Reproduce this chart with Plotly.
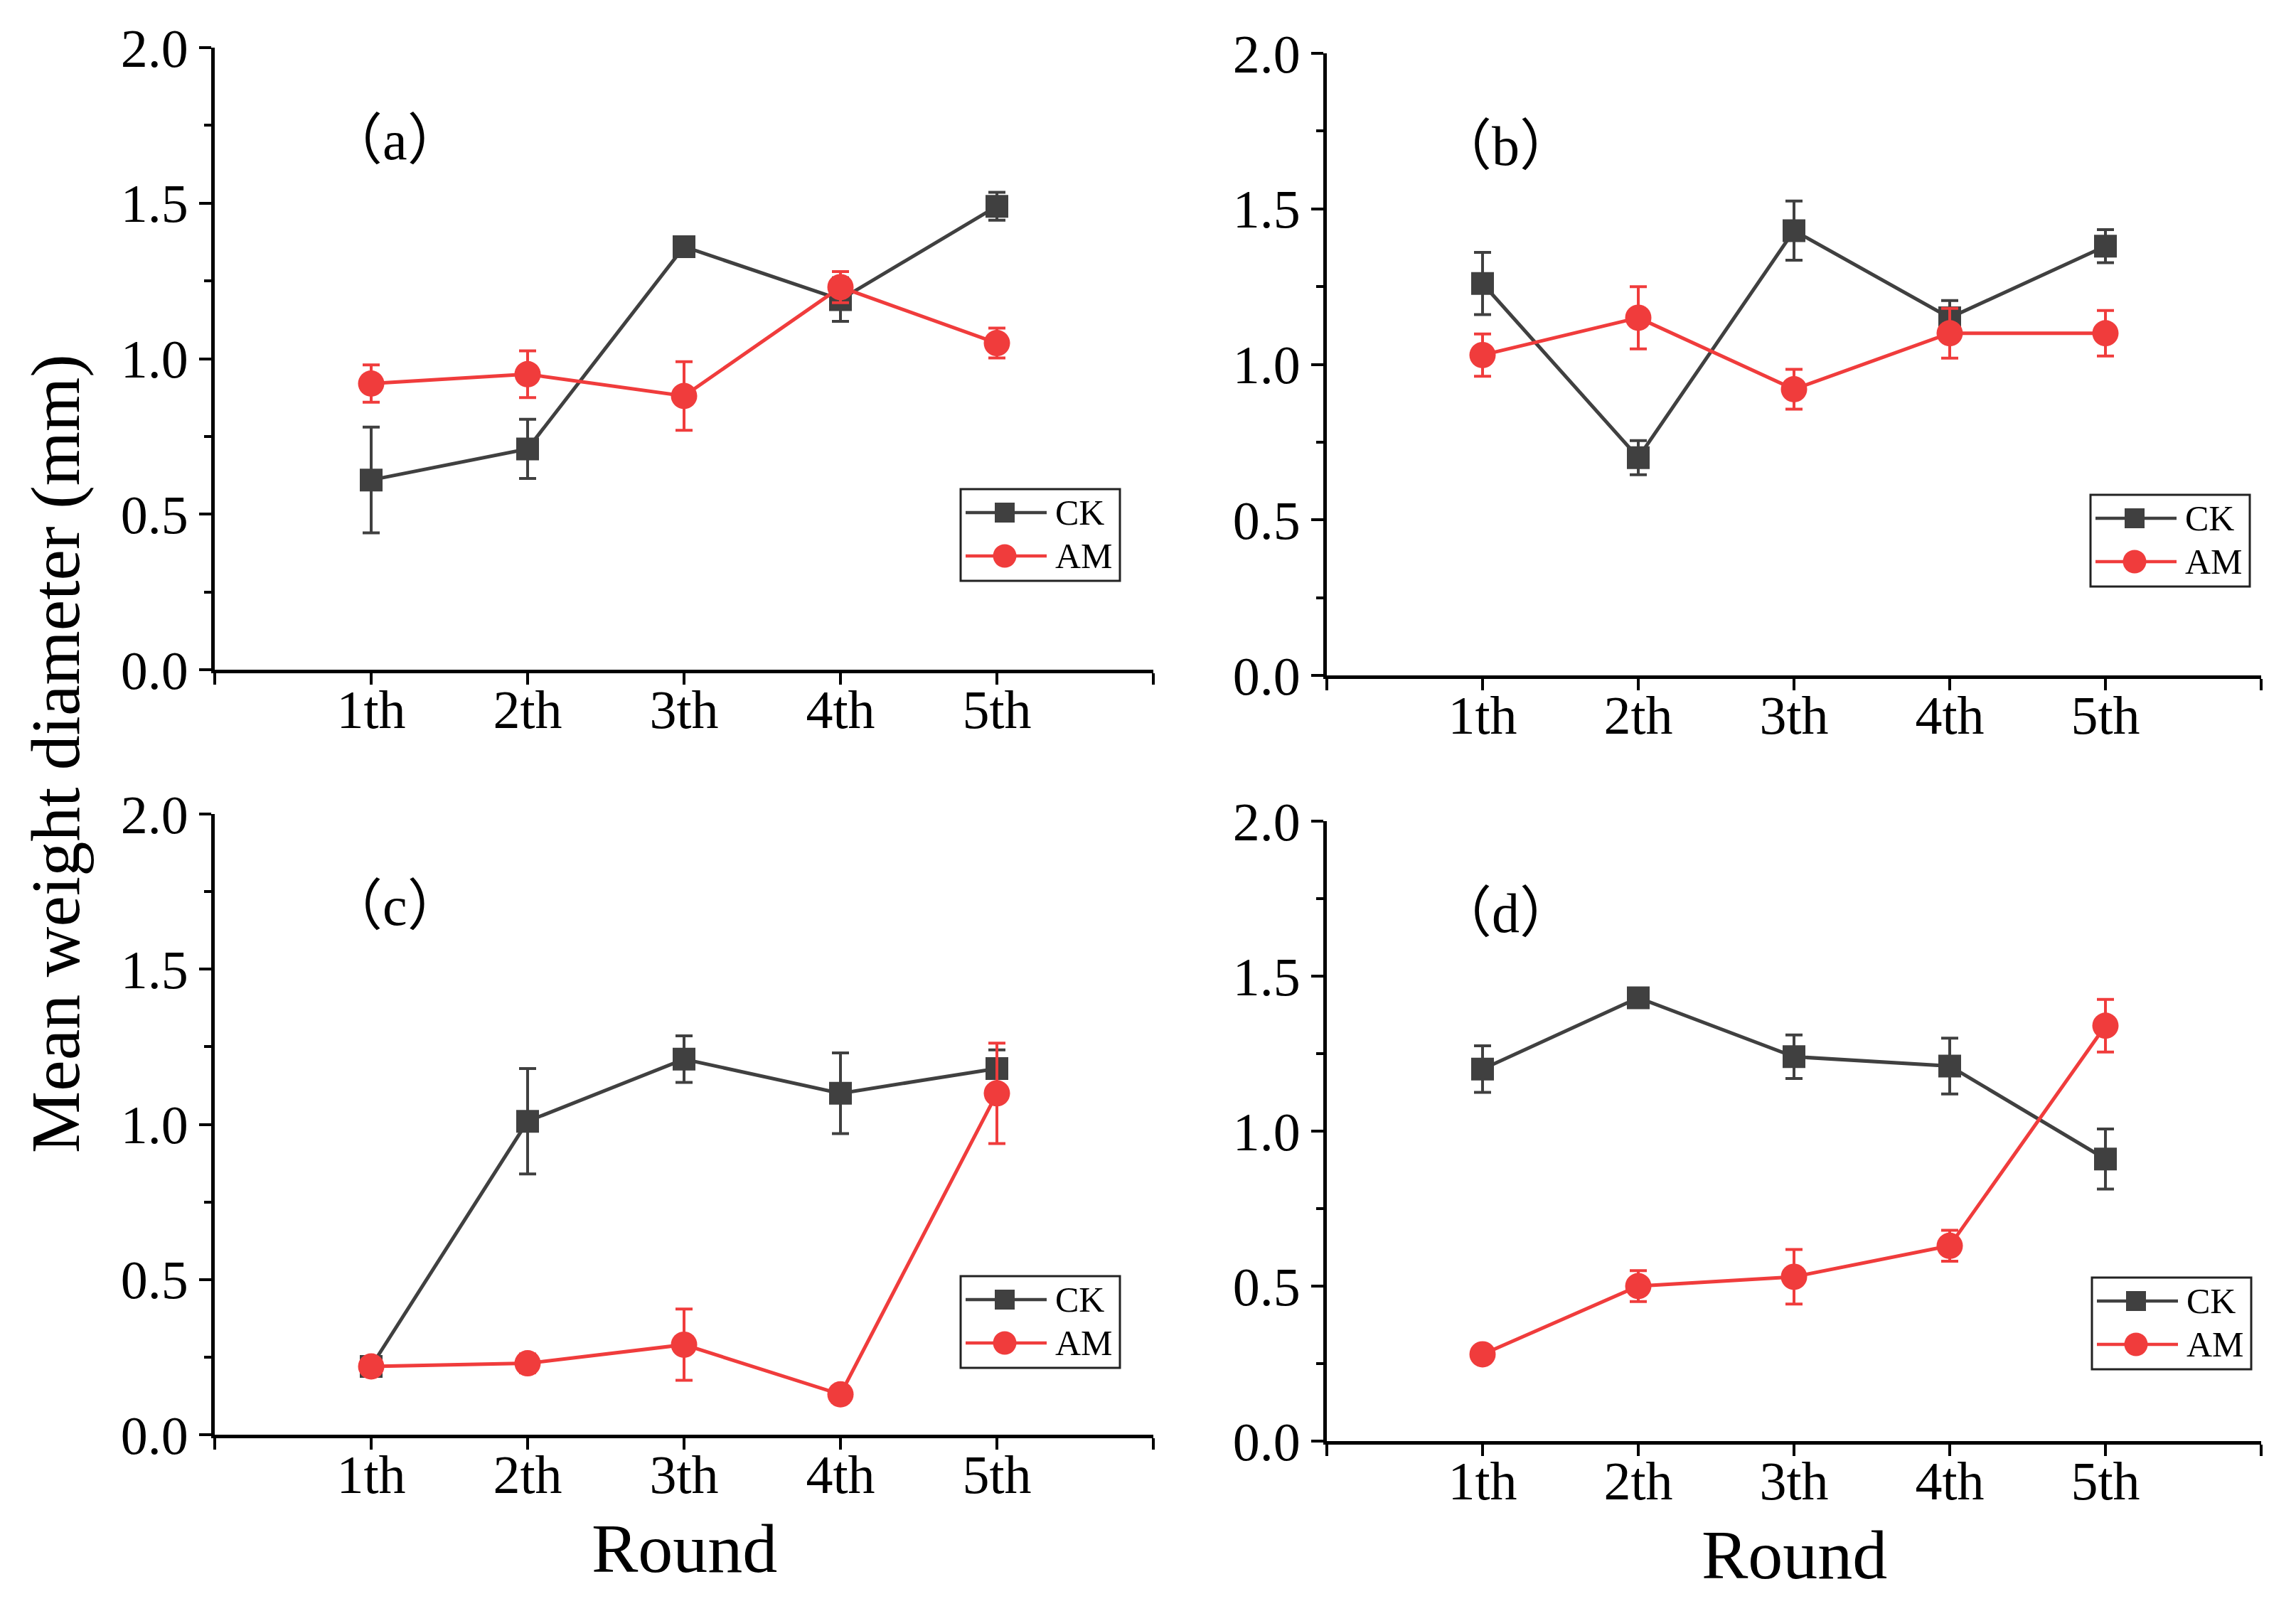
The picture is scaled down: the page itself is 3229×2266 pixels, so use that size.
import plotly.graph_objects as go

W, H = 3229, 2266
PAD = 8  # default body margin of the page
FW, FH = W - 2 * PAD, H - 2 * PAD

rounds = ['1th', '2th', '3th', '4th', '5th']
series_names = ['CK', 'AM']
panel_letters = ['a', 'b', 'c', 'd']

# mean weight diameter (mm) and error per panel
ck_a = [0.61, 0.71, 1.36, 1.19, 1.49]
ck_a_err = [0.17, 0.095, 0.03, 0.07, 0.045]
am_a = [0.92, 0.95, 0.88, 1.23, 1.05]
am_a_err = [0.06, 0.075, 0.11, 0.05, 0.048]

ck_b = [1.26, 0.70, 1.43, 1.15, 1.38]
ck_b_err = [0.10, 0.055, 0.095, 0.055, 0.053]
am_b = [1.03, 1.15, 0.92, 1.10, 1.10]
am_b_err = [0.068, 0.10, 0.064, 0.08, 0.073]

ck_c = [0.22, 1.01, 1.21, 1.10, 1.18]
ck_c_err = [0.02, 0.17, 0.075, 0.13, 0.06]
am_c = [0.22, 0.23, 0.29, 0.13, 1.10]
am_c_err = [0.025, 0.03, 0.115, 0.02, 0.162]

ck_d = [1.20, 1.43, 1.24, 1.21, 0.91]
ck_d_err = [0.075, 0.03, 0.07, 0.09, 0.097]
am_d = [0.28, 0.50, 0.53, 0.63, 1.34]
am_d_err = [0.02, 0.05, 0.088, 0.05, 0.085]

panels = [
    (ck_a, ck_a_err, am_a, am_a_err),
    (ck_b, ck_b_err, am_b, am_b_err),
    (ck_c, ck_c_err, am_c, am_c_err),
    (ck_d, ck_d_err, am_d, am_d_err),
]

CK_COL = '#404040'
AM_COL = '#F03C3C'
FONT = 'Liberation Serif, Times New Roman, serif'
CJK = 'Noto Sans CJK SC'

# numeric x positions for the rounds (axis runs 0..6)
xpos = [i + 1 for i in range(len(rounds))]
tickvals = [0] + xpos + [len(rounds) + 1]
ticktext = [''] + rounds + ['']

# axes boxes in window pixels (left, right, top, bottom)
boxes = [(302, 1622, 67, 942), (1866, 3180, 75, 950),
         (302, 1622, 1145, 2018), (1866, 3180, 1155, 2027)]
# legend box top-left corner in window pixels
legend_pos = [(1351, 688), (2940, 696), (1351, 1795), (2942, 1797)]


def px(x):
    return (x - PAD) / FW


def py(y):
    return 1 - (y - PAD) / FH


fig = go.Figure()
shapes = []
annotations = []

# colour, symbol, size in plot, size in legend
styles = [(CK_COL, 'square', 32, 28), (AM_COL, 'circle', 37, 33)]

for i, (ck, ck_err, am, am_err) in enumerate(panels):
    sfx = '' if i == 0 else str(i + 1)
    for name, y, err, (col, sym, size, _) in zip(series_names, [ck, am], [ck_err, am_err], styles):
        fig.add_trace(go.Scatter(
            x=xpos, y=y, name=name, mode='lines+markers',
            xaxis='x' + sfx, yaxis='y' + sfx, showlegend=False,
            line=dict(color=col, width=5),
            marker=dict(symbol=sym, size=size, color=col),
            error_y=dict(type='data', array=err, visible=True,
                         color=col, thickness=4, width=12),
        ))

    l, r, t, b = boxes[i]
    fig.update_layout(**{
        'xaxis' + sfx: dict(
            domain=[px(l), px(r)], anchor='y' + sfx, automargin=False,
            range=[0, len(rounds) + 1], tickvals=tickvals, ticktext=ticktext,
            showline=True, linecolor='black', linewidth=5,
            ticks='outside', ticklen=16, tickwidth=4, tickcolor='black',
            ticklabelstandoff=-30,
            showgrid=False, zeroline=False,
            tickfont=dict(family=FONT, size=76, color='black'),
        ),
        'yaxis' + sfx: dict(
            domain=[py(b), py(t)], anchor='x' + sfx, automargin=False,
            range=[0, 2], dtick=0.5, tickformat='.1f',
            showline=True, linecolor='black', linewidth=5,
            ticks='outside', ticklen=17, tickwidth=4, tickcolor='black',
            minor=dict(dtick=0.25, ticks='outside', ticklen=10, tickwidth=4,
                       tickcolor='black', showgrid=False),
            showgrid=False, zeroline=False,
            tickfont=dict(family=FONT, size=76, color='black'),
        ),
    })

    # panel label
    annotations.append(dict(
        text=f'<span style="font-family:{CJK}">（</span>{panel_letters[i]}'
             f'<span style="font-family:{CJK}">）</span>',
        x=1.15, y=1.72, xref='x' + sfx, yref='y' + sfx, showarrow=False,
        xanchor='center', yanchor='middle',
        font=dict(family=FONT, size=78, color='black'),
    ))

    # legend box (drawn by hand so the key lines are long like the original)
    lx, ly = legend_pos[i]
    shapes.append(dict(type='rect', xref='paper', yref='paper',
                       x0=px(lx), x1=px(lx + 224), y0=py(ly + 129), y1=py(ly),
                       line=dict(color='#222222', width=3), fillcolor='white', layer='above'))
    for k, (name, (col, sym, _, lsize)) in enumerate(zip(series_names, styles)):
        ry = ly + 33 + 61 * k
        shapes.append(dict(type='line', xref='paper', yref='paper',
                           x0=px(lx + 7), x1=px(lx + 121), y0=py(ry), y1=py(ry),
                           line=dict(color=col, width=4.5), layer='above'))
        half = lsize / 2
        shapes.append(dict(type='rect' if sym == 'square' else 'circle',
                           xref='paper', yref='paper',
                           x0=px(lx + 62 - half), x1=px(lx + 62 + half),
                           y0=py(ry + half), y1=py(ry - half),
                           line=dict(width=0), fillcolor=col, layer='above'))
        annotations.append(dict(
            text=name, x=px(lx + 131), y=py(ry), xref='paper', yref='paper',
            xanchor='left', yanchor='middle', showarrow=False,
            font=dict(family=FONT, size=50, color='black'),
        ))

annotations.append(dict(
    text='Mean weight diameter (mm)', textangle=-90,
    x=px(78), y=py(1060), xref='paper', yref='paper', showarrow=False,
    xanchor='center', yanchor='middle',
    font=dict(family=FONT, size=98, color='black'),
))
for l, r, cy in [(302, 1622, 2178), (1866, 3180, 2187)]:
    annotations.append(dict(
        text='Round', x=px((l + r) / 2), y=py(cy),
        xref='paper', yref='paper', showarrow=False,
        xanchor='center', yanchor='middle',
        font=dict(family=FONT, size=98, color='black'),
    ))

fig.update_layout(
    width=FW, height=FH, margin=dict(l=0, r=0, t=0, b=0, autoexpand=False),
    plot_bgcolor='white', paper_bgcolor='white', showlegend=False,
    font=dict(family=FONT, color='black'),
    shapes=shapes, annotations=annotations,
)

fig.write_html('out.html')
